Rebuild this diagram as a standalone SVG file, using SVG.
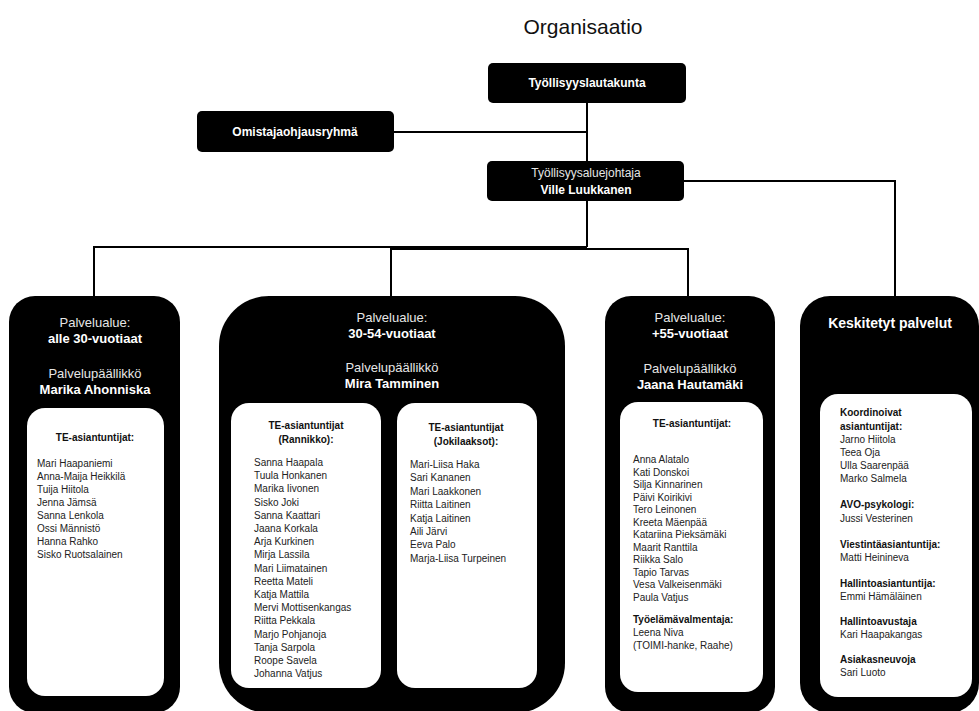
<svg xmlns="http://www.w3.org/2000/svg" width="979" height="711" viewBox="0 0 979 711">
<style>
text{font-family:"Liberation Sans",Arial,sans-serif}
.title{font-size:21px;fill:#111;text-anchor:middle}
.blk{fill:#000}
.wht{fill:#fff}
.ht{font-size:12px;font-weight:bold;fill:#fff;text-anchor:middle}
.hr{font-size:12px;fill:#e6e6e6;text-anchor:middle}
.cr{font-size:13px;fill:#e6e6e6;text-anchor:middle}
.cb{font-size:13px;font-weight:bold;fill:#fff;text-anchor:middle}
.ib{font-size:10px;font-weight:bold;fill:#111;text-anchor:middle}
.il{font-size:10px;fill:#222}
.ilb{font-size:10px;font-weight:bold;fill:#111}
.conn{stroke:#000;stroke-width:2;fill:none}
</style>
<text class="title" x="583" y="34">Organisaatio</text>
<g id="connectors">
<path class="conn" d="M587 103 V247"/>
<path class="conn" d="M394 132 H587"/>
<path class="conn" d="M94 298 V247 H587"/>
<path class="conn" d="M391 298 V249 H688 V298"/>
<path class="conn" d="M684 181 H895 V298"/>
</g>
<g id="lautakunta">
<rect class="blk" x="488" y="63" width="198" height="40" rx="5"/>
<text class="ht" x="587" y="87">Työllisyyslautakunta</text>
</g>
<g id="omistaja">
<rect class="blk" x="197" y="111" width="197" height="41" rx="5"/>
<text class="ht" x="295" y="136">Omistajaohjausryhmä</text>
</g>
<g id="johtaja">
<rect class="blk" x="487" y="161" width="197" height="40" rx="5"/>
<text class="hr" x="586" y="177">Työllisyysaluejohtaja</text>
<text class="ht" x="586" y="194">Ville Luukkanen</text>
</g>
<g id="alle30">
<rect class="blk" x="9" y="296" width="171" height="417" rx="26"/>
<text class="cr" x="95" y="327">Palvelualue:</text>
<text class="cb" x="95" y="343">alle 30-vuotiaat</text>
<text class="cr" x="95" y="378">Palvelupäällikkö</text>
<text class="cb" x="95" y="394">Marika Ahonniska</text>
<rect class="wht" x="27" y="408" width="137" height="288" rx="18"/>
<text class="ib" x="95" y="441">TE-asiantuntijat:</text>
<text class="il" x="37" y="467">Mari Haapaniemi</text>
<text class="il" x="37" y="480">Anna-Maija Heikkilä</text>
<text class="il" x="37" y="493">Tuija Hiitola</text>
<text class="il" x="37" y="506">Jenna Jämsä</text>
<text class="il" x="37" y="519">Sanna Lenkola</text>
<text class="il" x="37" y="532">Ossi Männistö</text>
<text class="il" x="37" y="545">Hanna Rahko</text>
<text class="il" x="37" y="558">Sisko Ruotsalainen</text>
</g>
<g id="v30-54">
<rect class="blk" x="219" y="296" width="346" height="417" rx="50"/>
<text class="cr" x="392" y="322">Palvelualue:</text>
<text class="cb" x="392" y="338">30-54-vuotiaat</text>
<text class="cr" x="392" y="372">Palvelupäällikkö</text>
<text class="cb" x="392" y="388">Mira Tamminen</text>
<rect class="wht" x="231" y="403" width="150" height="285" rx="18"/>
<text class="ib" x="306" y="429">TE-asiantuntijat</text>
<text class="ib" x="306" y="443">(Rannikko):</text>
<text class="il" x="254" y="466">Sanna Haapala</text>
<text class="il" x="254" y="479.2">Tuula Honkanen</text>
<text class="il" x="254" y="492.4">Marika Iivonen</text>
<text class="il" x="254" y="505.6">Sisko Joki</text>
<text class="il" x="254" y="518.8">Sanna Kaattari</text>
<text class="il" x="254" y="532">Jaana Korkala</text>
<text class="il" x="254" y="545.2">Arja Kurkinen</text>
<text class="il" x="254" y="558.4">Mirja Lassila</text>
<text class="il" x="254" y="571.6">Mari Liimatainen</text>
<text class="il" x="254" y="584.8">Reetta Mateli</text>
<text class="il" x="254" y="598">Katja Mattila</text>
<text class="il" x="254" y="611.2">Mervi Mottisenkangas</text>
<text class="il" x="254" y="624.4">Riitta Pekkala</text>
<text class="il" x="254" y="637.6">Marjo Pohjanoja</text>
<text class="il" x="254" y="650.8">Tanja Sarpola</text>
<text class="il" x="254" y="664">Roope Savela</text>
<text class="il" x="254" y="677.2">Johanna Vatjus</text>
<rect class="wht" x="397" y="403" width="140" height="285" rx="18"/>
<text class="ib" x="466" y="431">TE-asiantuntijat</text>
<text class="ib" x="466" y="445">(Jokilaaksot):</text>
<text class="il" x="410" y="468">Mari-Liisa Haka</text>
<text class="il" x="410" y="481.4">Sari Kananen</text>
<text class="il" x="410" y="494.8">Mari Laakkonen</text>
<text class="il" x="410" y="508.2">Riitta Laitinen</text>
<text class="il" x="410" y="521.6">Katja Laitinen</text>
<text class="il" x="410" y="535">Aili Järvi</text>
<text class="il" x="410" y="548.4">Eeva Palo</text>
<text class="il" x="410" y="561.8">Marja-Liisa Turpeinen</text>
</g>
<g id="yli55">
<rect class="blk" x="605" y="296" width="170" height="417" rx="26"/>
<text class="cr" x="690" y="322">Palvelualue:</text>
<text class="cb" x="690" y="338">+55-vuotiaat</text>
<text class="cr" x="690" y="373">Palvelupäällikkö</text>
<text class="cb" x="690" y="389">Jaana Hautamäki</text>
<rect class="wht" x="620" y="402" width="143" height="290" rx="18"/>
<text class="ib" x="692" y="427">TE-asiantuntijat:</text>
<text class="il" x="633" y="463">Anna Alatalo</text>
<text class="il" x="633" y="475.5">Kati Donskoi</text>
<text class="il" x="633" y="488">Silja Kinnarinen</text>
<text class="il" x="633" y="500.5">Päivi Koirikivi</text>
<text class="il" x="633" y="513">Tero Leinonen</text>
<text class="il" x="633" y="525.5">Kreeta Mäenpää</text>
<text class="il" x="633" y="538">Katariina Pieksämäki</text>
<text class="il" x="633" y="550.5">Maarit Ranttila</text>
<text class="il" x="633" y="563">Riikka Salo</text>
<text class="il" x="633" y="575.5">Tapio Tarvas</text>
<text class="il" x="633" y="588">Vesa Valkeisenmäki</text>
<text class="il" x="633" y="600.5">Paula Vatjus</text>
<text class="ilb" x="633" y="623">Työelämävalmentaja:</text>
<text class="il" x="633" y="636">Leena Niva</text>
<text class="il" x="633" y="648.5">(TOIMI-hanke, Raahe)</text>
</g>
<g id="keskitetyt">
<rect class="blk" x="800" y="296" width="179" height="417" rx="30"/>
<text class="cb" x="890" y="328" style="font-size:14px">Keskitetyt palvelut</text>
<rect class="wht" x="820" y="394" width="152" height="303" rx="18"/>
<text class="ilb" x="840" y="416">Koordinoivat</text>
<text class="ilb" x="840" y="430">asiantuntijat:</text>
<text class="il" x="840" y="443">Jarno Hiitola</text>
<text class="il" x="840" y="456">Teea Oja</text>
<text class="il" x="840" y="469">Ulla Saarenpää</text>
<text class="il" x="840" y="482">Marko Salmela</text>
<text class="ilb" x="840" y="508">AVO-psykologi:</text>
<text class="il" x="840" y="522">Jussi Vesterinen</text>
<text class="ilb" x="840" y="548">Viestintäasiantuntija:</text>
<text class="il" x="840" y="561">Matti Heinineva</text>
<text class="ilb" x="840" y="587">Hallintoasiantuntija:</text>
<text class="il" x="840" y="600">Emmi Hämäläinen</text>
<text class="ilb" x="840" y="625">Hallintoavustaja</text>
<text class="il" x="840" y="638">Kari Haapakangas</text>
<text class="ilb" x="840" y="663">Asiakasneuvoja</text>
<text class="il" x="840" y="676">Sari Luoto</text>
</g>
</svg>
